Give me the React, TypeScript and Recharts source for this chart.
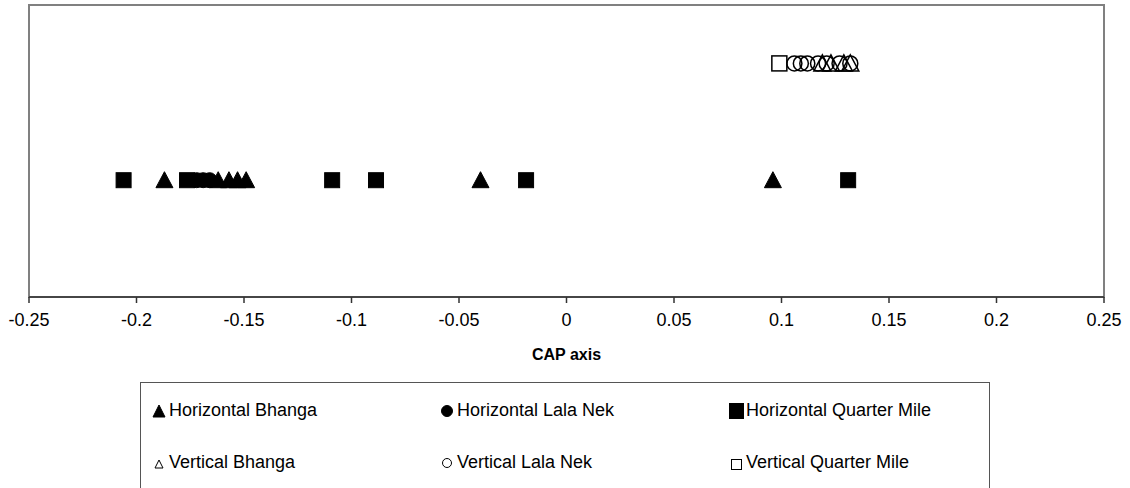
import React from "react"
import { ScatterChart, Scatter, XAxis, YAxis, ReferenceArea } from "recharts"

// CAP axis scores
const horizontalBhanga = [-0.187, -0.162, -0.157, -0.153, -0.149, -0.04, 0.096]
const horizontalLalaNek = [-0.172, -0.169, -0.166]
const horizontalQuarterMile = [-0.206, -0.1765, -0.109, -0.0886, -0.0188, 0.131]
const verticalBhanga = [0.119, 0.123, 0.129, 0.132]
const verticalLalaNek = [0.106, 0.109, 0.112, 0.117, 0.121, 0.127, 0.132]
const verticalQuarterMile = [0.099]

const xTicks = [-0.25, -0.2, -0.15, -0.1, -0.05, 0, 0.05, 0.1, 0.15, 0.2, 0.25]
const HORIZONTAL_ROW = 1
const VERTICAL_ROW = 2

const toPoints = (values: number[], row: number) => values.map((x) => ({ x, y: row }))

const FONT = "'Liberation Sans', Arial, sans-serif"

type MarkProps = { cx?: number; cy?: number }

const Triangle = ({ cx = 0, cy = 0, hollow = false }: MarkProps & { hollow?: boolean }) => {
  const w = 17
  const h = 15
  const d = `M${cx},${cy - h / 2 - 1} L${cx + w / 2},${cy + h / 2} L${cx - w / 2},${cy + h / 2} Z`
  return <path d={d} fill={hollow ? "none" : "#000"} stroke="#000" strokeWidth={hollow ? 1.5 : 1} />
}

const Circle = ({ cx = 0, cy = 0, hollow = false }: MarkProps & { hollow?: boolean }) => (
  <circle cx={cx} cy={cy} r={7.5} fill={hollow ? "none" : "#000"} stroke="#000" strokeWidth={hollow ? 1.5 : 1} />
)

const Square = ({ cx = 0, cy = 0, hollow = false }: MarkProps & { hollow?: boolean }) => (
  <rect x={cx - 7.5} y={cy - 7.5} width={15} height={15} fill={hollow ? "none" : "#000"} stroke="#000" strokeWidth={hollow ? 1.5 : 1} />
)

const legendItems = [
  { name: "Horizontal Bhanga", mark: "tri", hollow: false },
  { name: "Horizontal Lala Nek", mark: "circle", hollow: false },
  { name: "Horizontal Quarter Mile", mark: "square", hollow: false },
  { name: "Vertical Bhanga", mark: "tri", hollow: true },
  { name: "Vertical Lala Nek", mark: "circle", hollow: true },
  { name: "Vertical Quarter Mile", mark: "square", hollow: true },
]

function LegendMark({ mark, hollow }: { mark: string; hollow: boolean }) {
  const fill = hollow ? "none" : "#000"
  const big = !hollow
  return (
    <svg width={16} height={18} style={{ display: "block" }}>
      {mark === "tri" && (
        <path d={big ? "M8,4 L14,16 L2,16 Z" : "M8,7 L12,15 L4,15 Z"} fill={fill} stroke="#000" strokeWidth={1} />
      )}
      {mark === "circle" && <circle cx={8} cy={10} r={big ? 5.5 : 4.5} fill={fill} stroke="#000" strokeWidth={1} />}
      {mark === "square" && (big ? <rect x={1} y={2} width={15} height={16} fill={fill} /> : <rect x={3.5} y={6.5} width={10} height={10} fill={fill} stroke="#000" strokeWidth={1} />)}
    </svg>
  )
}

export default function App() {
  return (
    <div style={{ position: "absolute", left: 0, top: 0, width: 1130, height: 488, background: "#fff", overflow: "hidden", fontFamily: FONT }}>
      <ScatterChart width={1130} height={488} margin={{ top: 5, right: 26, bottom: 128, left: 29 }}>
        <XAxis
          type="number"
          dataKey="x"
          domain={[-0.25, 0.25]}
          ticks={xTicks}
          allowDataOverflow
          tick={{ fill: "#000", fontSize: 18, fontFamily: FONT }}
          tickSize={6}
          tickMargin={10}
          stroke="#333"
          strokeWidth={1.5}
          height={63}
          label={{ value: "CAP axis", position: "insideBottom", offset: 0, fill: "#000", fontSize: 16, fontWeight: "bold", fontFamily: FONT }}
        />
        <YAxis type="number" dataKey="y" domain={[0, 2.5]} hide />
        <ReferenceArea x1={-0.25} x2={0.25} y1={0} y2={2.5} fill="none" stroke="#808080" strokeWidth={2} />
        <Scatter name="Horizontal Bhanga" data={toPoints(horizontalBhanga, HORIZONTAL_ROW)} isAnimationActive={false} shape={(p: any) => <Triangle cx={p.cx} cy={p.cy} />} />
        <Scatter name="Horizontal Lala Nek" data={toPoints(horizontalLalaNek, HORIZONTAL_ROW)} isAnimationActive={false} shape={(p: any) => <Circle cx={p.cx} cy={p.cy} />} />
        <Scatter name="Horizontal Quarter Mile" data={toPoints(horizontalQuarterMile, HORIZONTAL_ROW)} isAnimationActive={false} shape={(p: any) => <Square cx={p.cx} cy={p.cy} />} />
        <Scatter name="Vertical Bhanga" data={toPoints(verticalBhanga, VERTICAL_ROW)} isAnimationActive={false} shape={(p: any) => <Triangle cx={p.cx} cy={p.cy} hollow />} />
        <Scatter name="Vertical Lala Nek" data={toPoints(verticalLalaNek, VERTICAL_ROW)} isAnimationActive={false} shape={(p: any) => <Circle cx={p.cx} cy={p.cy} hollow />} />
        <Scatter name="Vertical Quarter Mile" data={toPoints(verticalQuarterMile, VERTICAL_ROW)} isAnimationActive={false} shape={(p: any) => <Square cx={p.cx} cy={p.cy} hollow />} />
      </ScatterChart>
      <div
        style={{
          position: "absolute",
          left: 140,
          top: 382,
          width: 850,
          height: 140,
          border: "1px solid #555",
          boxSizing: "border-box",
          display: "grid",
          gridTemplateColumns: "288px 289px 1fr",
          gridTemplateRows: "52px 52px",
          paddingLeft: 10,
          paddingTop: 1,
          fontSize: 18,
          color: "#000",
        }}
      >
        {legendItems.map((it) => (
          <div key={it.name} style={{ display: "flex", alignItems: "center", gap: 2, whiteSpace: "nowrap" }}>
            <LegendMark mark={it.mark} hollow={it.hollow} />
            <span>{it.name}</span>
          </div>
        ))}
      </div>
    </div>
  )
}
